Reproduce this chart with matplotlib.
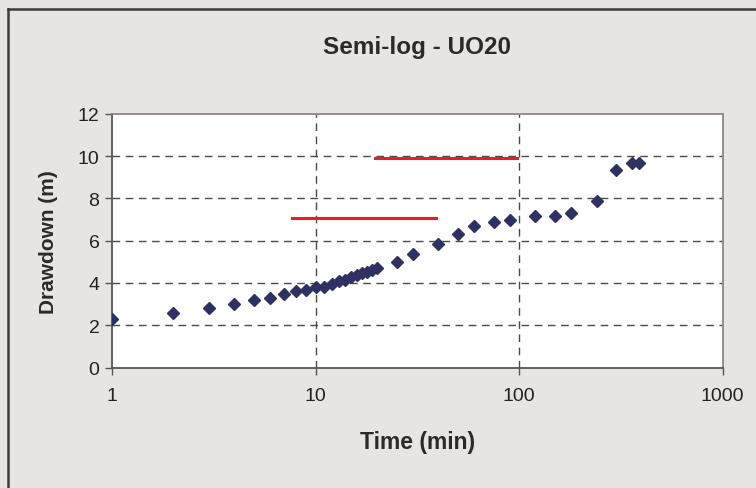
import matplotlib
matplotlib.use("Agg")
import matplotlib.pyplot as plt
from matplotlib.lines import Line2D

# Pumping test UO20 - drawdown vs time
time_min = [1, 2, 3, 4, 5, 6, 7, 8, 9, 10, 11, 12, 13, 14, 15, 16, 17, 18, 19, 20,
            25, 30, 40, 50, 60, 75, 90, 120, 150, 180, 240, 300, 360, 390]
drawdown_m = [2.3, 2.6, 2.8, 3.0, 3.2, 3.3, 3.5, 3.6, 3.65, 3.8, 3.8, 3.95, 4.1, 4.15,
              4.3, 4.4, 4.45, 4.5, 4.6, 4.7, 5.0, 5.35, 5.85, 6.3, 6.7, 6.9, 7.0,
              7.15, 7.15, 7.3, 7.9, 9.35, 9.7, 9.7]

# red marker lines (x start, x end, level)
red1_x = [7.7, 39]
red1_y = [7.07, 7.07]
red2_x = [19.5, 98]
red2_y = [9.9, 9.9]

xticks = [1, 10, 100, 1000]
xtick_labels = ["1", "10", "100", "1000"]
yticks = [0, 2, 4, 6, 8, 10, 12]

plt.rcParams['font.family'] = ['Liberation Sans', 'DejaVu Sans']

fig = plt.figure(figsize=(7.56, 4.89), dpi=100)
fig.patch.set_facecolor('#e6e5e2')

# outer frame of the chart (only top and left show)
fig.add_artist(Line2D([8 / 756, 8 / 756], [0, 1 - 10 / 489], transform=fig.transFigure,
                      color='#3c3c3c', lw=1.8))
fig.add_artist(Line2D([8 / 756, 1], [1 - 10 / 489, 1 - 10 / 489], transform=fig.transFigure,
                      color='#3c3c3c', lw=1.8))

ax = fig.add_axes([0.148, 0.2464, 0.808, 0.5186])
ax.set_facecolor('white')

ax.plot(time_min, drawdown_m, linestyle='none', marker='D', markersize=6.3,
        color='#2f3163', zorder=3)
ax.plot(red1_x, red1_y, color='#ea1c24', lw=2.2, zorder=2)
ax.plot(red2_x, red2_y, color='#ea1c24', lw=2.2, zorder=2)

ax.set_xscale('log')
ax.set_xlim(1, 1000)
ax.set_ylim(0, 12)
ax.set_xticks(xticks)
ax.set_xticklabels(xtick_labels)
ax.minorticks_off()
ax.set_yticks(yticks)

for y in yticks[1:-1]:
    ax.axhline(y, color='#4a4a4a', lw=1, linestyle=(0, (5.5, 4)), zorder=1)
for x in [10, 100]:
    ax.axvline(x, color='#4a4a4a', lw=1, linestyle=(0, (5.5, 4)), zorder=1)

for s in ['top', 'right']:
    ax.spines[s].set_color('#8c8585')
    ax.spines[s].set_linewidth(1.3)
for s in ['left', 'bottom']:
    ax.spines[s].set_color('#555555')
    ax.spines[s].set_linewidth(1.3)

ax.tick_params(axis='both', direction='out', length=5, width=1, color='#555555',
               labelsize=14, labelcolor='#222222')
ax.tick_params(axis='x', pad=9)
ax.tick_params(axis='y', pad=4)

ax.set_title('Semi-log - UO20', fontsize=17.5, fontweight='bold', color='#2a2a2a', pad=44)
ax.set_xlabel('Time (min)', fontsize=16.5, fontweight='bold', color='#2a2a2a', labelpad=19)
ax.set_ylabel('Drawdown (m)', fontsize=15, fontweight='bold', color='#2a2a2a', labelpad=14)

fig.savefig('out.png', dpi=100, facecolor=fig.get_facecolor())
